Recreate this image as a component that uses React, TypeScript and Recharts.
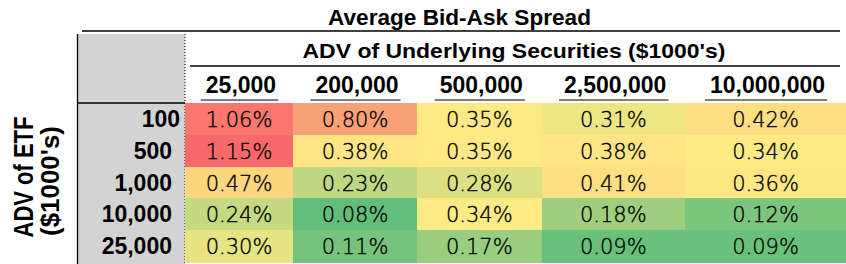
import React from 'react';
import { ScatterChart, Scatter, XAxis, YAxis, Customized } from 'recharts';

// Column categories: ADV of underlying securities ($1000's)
const COLUMN_LABELS = ['25,000', '200,000', '500,000', '2,500,000', '10,000,000'];
// Row categories: ADV of the ETF ($1000's)
const ROW_LABELS = ['100', '500', '1,000', '10,000', '25,000'];

// Average bid-ask spread (%) per ETF ADV row, one value per underlying ADV column
const SPREAD_ETF_100 = [1.06, 0.8, 0.35, 0.31, 0.42];
const SPREAD_ETF_500 = [1.15, 0.38, 0.35, 0.38, 0.34];
const SPREAD_ETF_1000 = [0.47, 0.23, 0.28, 0.41, 0.36];
const SPREAD_ETF_10000 = [0.24, 0.08, 0.34, 0.18, 0.12];
const SPREAD_ETF_25000 = [0.3, 0.11, 0.17, 0.09, 0.09];

const SPREAD_ROWS = [SPREAD_ETF_100, SPREAD_ETF_500, SPREAD_ETF_1000, SPREAD_ETF_10000, SPREAD_ETF_25000];

// ---- layout ----
const WIDTH = 846;
const HEIGHT = 264;
const MARGIN = { top: 66, right: 0, bottom: 2, left: 77 };
const Y_AXIS_WIDTH = 108;
const X_AXIS_HEIGHT = 37;
const PLOT_LEFT = MARGIN.left + Y_AXIS_WIDTH;
const PLOT_TOP = MARGIN.top + X_AXIS_HEIGHT;
const PLOT_BOTTOM = HEIGHT - MARGIN.bottom;
const ROW_HEIGHT = (PLOT_BOTTOM - PLOT_TOP) / ROW_LABELS.length;
// column widths in px (the x axis domain is laid out in pixels)
const COLUMN_WIDTHS = [108, 124, 124.5, 143.5, 161];
const COLUMN_EDGES = COLUMN_WIDTHS.reduce<number[]>((acc, w) => [...acc, acc[acc.length - 1] + w], [0]);
const COLUMN_CENTERS = COLUMN_WIDTHS.map((w, i) => COLUMN_EDGES[i] + w / 2);
const X_DOMAIN_MAX = COLUMN_EDGES[COLUMN_EDGES.length - 1];
// right inset of each row label from the dotted divider
const ROW_LABEL_INSET = [5, 13, 13, 13, 13];

const BOLD_FONT = '"Liberation Sans", Arial, sans-serif';
const VALUE_FONT = '"DejaVu Sans", sans-serif';

// ---- colour scale (green - yellow - red, midpoint at the median) ----
const allValues = SPREAD_ROWS.flat().slice().sort((a, b) => a - b);
const minV = allValues[0];
const maxV = allValues[allValues.length - 1];
const midV = allValues[Math.floor(allValues.length / 2)];
const GREEN = [99, 190, 123];
const YELLOW = [255, 235, 132];
const RED = [248, 105, 107];

function mix(a: number[], b: number[], t: number) {
  const c = a.map((v, i) => Math.round(v + (b[i] - v) * t));
  return `rgb(${c[0]},${c[1]},${c[2]})`;
}

function spreadColor(v: number) {
  if (v <= midV) return mix(GREEN, YELLOW, (v - minV) / (midV - minV));
  return mix(YELLOW, RED, (v - midV) / (maxV - midV));
}

type Cell = { col: number; row: number; c: number; value: number };

const cells: Cell[] = SPREAD_ROWS.flatMap((rowValues, r) =>
  rowValues.map((value, c) => ({ col: COLUMN_CENTERS[c], row: r, c, value }))
);

const HeatCell = (props: any) => {
  const { cx, cy, payload } = props;
  const w = COLUMN_WIDTHS[payload.c];
  return (
    <g>
      <rect
        x={cx - w / 2}
        y={cy - ROW_HEIGHT / 2}
        width={w + 0.5}
        height={ROW_HEIGHT + 0.5}
        fill={spreadColor(payload.value)}
        shapeRendering="crispEdges"
      />
      <text
        x={cx}
        y={cy + 8}
        textAnchor="middle"
        fontFamily={VALUE_FONT}
        fontWeight={200}
        fontSize={21}
        fill="#000"
        stroke="#000"
        strokeWidth={0.35}
      >
        {payload.value.toFixed(2)}%
      </text>
    </g>
  );
};

function approxHeaderWidth(label: string) {
  let w = 0;
  for (const ch of label) w += ch === ',' ? 6.4 : 12.8;
  return w;
}

const ColumnTick = (props: any) => {
  const { x, index } = props;
  const label = COLUMN_LABELS[index];
  const cx = x + 2;
  const w = approxHeaderWidth(label);
  return (
    <g>
      <text x={cx} y={93} textAnchor="middle" fontFamily={BOLD_FONT} fontWeight={700} fontSize={23} fill="#000">
        {label}
      </text>
      <line x1={cx - w / 2 - 5} x2={cx + w / 2 + 2} y1={100} y2={100} stroke="#000" strokeWidth={1.2} />
    </g>
  );
};

const RowTick = (props: any) => {
  const { y, payload } = props;
  const i = payload.value as number;
  return (
    <text
      x={PLOT_LEFT - ROW_LABEL_INSET[i]}
      y={y + 8}
      textAnchor="end"
      fontFamily={BOLD_FONT}
      fontWeight={700}
      fontSize={23}
      fill="#000"
    >
      {ROW_LABELS[i]}
    </text>
  );
};

const Frame = () => (
  <g>
    <rect x={77} y={34} width={PLOT_LEFT - 77} height={HEIGHT - 34} fill="#D3D3D3" />
    <line x1={77.5} x2={77.5} y1={34} y2={HEIGHT} stroke="#000" strokeWidth={1.3} />
    <line x1={77} x2={PLOT_LEFT} y1={PLOT_TOP} y2={PLOT_TOP} stroke="#000" strokeWidth={1.3} />
    <line x1={PLOT_LEFT} x2={PLOT_LEFT} y1={34} y2={HEIGHT} stroke="#000" strokeWidth={1} strokeDasharray="1 2" />
    <line x1={82} x2={840} y1={31} y2={31} stroke="#000" strokeWidth={1.3} />
    <line x1={190} x2={840} y1={66} y2={66} stroke="#000" strokeWidth={1.3} />
  </g>
);

const Titles = () => (
  <g fill="#000" fontFamily={BOLD_FONT} fontWeight={700}>
    <text x={459.5} y={25} textAnchor="middle" fontSize={22} textLength={263} lengthAdjust="spacingAndGlyphs">
      Average Bid-Ask Spread
    </text>
    <text x={514} y={58} textAnchor="middle" fontSize={21} textLength={423} lengthAdjust="spacingAndGlyphs">
      ADV of Underlying Securities ($1000's)
    </text>
    <text
      x={33}
      y={177}
      transform="rotate(-90, 33, 177)"
      textAnchor="middle"
      fontSize={28}
      textLength={121}
      lengthAdjust="spacingAndGlyphs"
    >
      ADV of ETF
    </text>
    <text
      x={59}
      y={181}
      transform="rotate(-90, 59, 181)"
      textAnchor="middle"
      fontSize={26}
      textLength={110}
      lengthAdjust="spacingAndGlyphs"
    >
      ($1000's)
    </text>
  </g>
);

export default function App() {
  return (
    <div style={{ position: 'absolute', left: 0, top: 0, width: WIDTH, height: HEIGHT, background: '#fff' }}>
      <ScatterChart width={WIDTH} height={HEIGHT} margin={MARGIN}>
        <Customized component={<Frame />} />
        <XAxis
          type="number"
          dataKey="col"
          orientation="top"
          domain={[0, X_DOMAIN_MAX]}
          ticks={COLUMN_CENTERS}
          interval={0}
          height={X_AXIS_HEIGHT}
          axisLine={false}
          tickLine={false}
          tick={<ColumnTick />}
        />
        <YAxis
          type="number"
          dataKey="row"
          domain={[-0.5, ROW_LABELS.length - 0.5]}
          ticks={ROW_LABELS.map((_, i) => i)}
          interval={0}
          reversed
          width={Y_AXIS_WIDTH}
          axisLine={false}
          tickLine={false}
          tick={<RowTick />}
        />
        <Scatter data={cells} shape={<HeatCell />} isAnimationActive={false} />
        <Customized component={<Titles />} />
      </ScatterChart>
    </div>
  );
}
